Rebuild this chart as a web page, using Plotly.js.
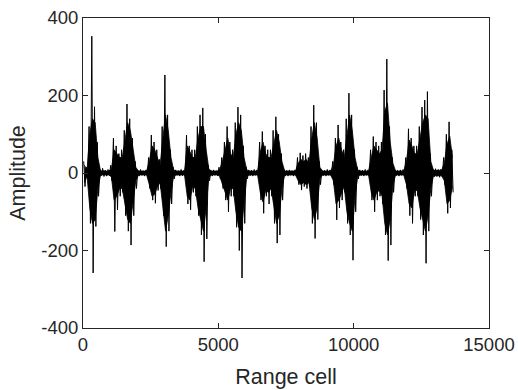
<!DOCTYPE html>
<html>
<head>
<meta charset="utf-8">
<script src="https://cdn.plot.ly/plotly-3.0.1.min.js"></script>
<style>html,body{margin:0;padding:0;background:#fff;}#chart{width:518px;height:390px;}</style>
</head>
<body>
<div id="chart"></div>
<script>
// Range-cell bins (start of each 100-cell bin)
var binStart = [0,100,200,300,400,500,600,700,800,900,1000,1100,1200,1300,1400,1500,1600,1700,1800,1900,
2000,2100,2200,2300,2400,2500,2600,2700,2800,2900,3000,3100,3200,3300,3400,3500,3600,3700,3800,3900,
4000,4100,4200,4300,4400,4500,4600,4700,4800,4900,5000,5100,5200,5300,5400,5500,5600,5700,5800,5900,
6000,6100,6200,6300,6400,6500,6600,6700,6800,6900,7000,7100,7200,7300,7400,7500,7600,7700,7800,7900,
8000,8100,8200,8300,8400,8500,8600,8700,8800,8900,9000,9100,9200,9300,9400,9500,9600,9700,9800,9900,
10000,10100,10200,10300,10400,10500,10600,10700,10800,10900,11000,11100,11200,11300,11400,11500,11600,11700,11800,11900,
12000,12100,12200,12300,12400,12500,12600,12700,12800,12900,13000,13100,13200,13300,13400,13500,13600];
// Peak (maximum) amplitude within each bin
var binMax = [30,15,120,353,171,80,8,12,7,9,20,90,70,50,60,110,178,140,90,30,
7,9,6,8,40,98,80,60,35,120,253,150,60,15,8,6,9,7,98,70,
60,60,120,150,168,100,20,7,8,6,15,40,80,120,80,60,130,170,150,70,
15,8,7,9,8,80,107,70,60,60,110,145,100,50,9,7,8,6,8,40,
52,45,50,40,120,175,130,30,8,7,9,8,30,90,124,80,60,140,206,150,
60,15,8,7,9,8,60,94,80,70,80,214,294,120,40,8,7,8,9,40,
114,90,70,70,120,170,188,210,50,10,11,9,10,40,100,132,60];
// Peak (minimum) amplitude within each bin
var binMin = [-35,-15,-130,-258,-138,-60,-7,-9,-8,-6,-20,-151,-95,-60,-50,-110,-150,-186,-110,-40,
-8,-6,-8,-7,-40,-70,-78,-45,-40,-110,-190,-150,-80,-15,-6,-8,-7,-8,-80,-95,
-50,-60,-110,-160,-229,-170,-20,-8,-6,-7,-15,-40,-70,-100,-60,-60,-140,-200,-271,-130,
-15,-7,-8,-6,-8,-70,-104,-60,-80,-60,-130,-181,-160,-70,-8,-8,-6,-8,-7,-30,
-44,-35,-40,-35,-130,-169,-120,-30,-7,-8,-6,-8,-30,-121,-90,-70,-50,-130,-160,-225,
-100,-15,-7,-8,-6,-8,-70,-100,-70,-60,-80,-160,-226,-186,-50,-7,-8,-6,-8,-40,
-110,-130,-60,-60,-120,-160,-233,-150,-60,-10,-9,-11,-10,-30,-104,-90,-50];
// Dense (solid) upper level of the signal within each bin
var coreMax = [20,8,100,140,130,40,5,6,5,5,10,60,50,40,40,80,130,110,60,15,
5,5,5,5,30,70,60,40,20,90,150,110,40,8,5,5,5,5,70,55,
40,40,90,120,120,60,10,5,5,5,8,30,60,90,50,40,100,130,110,40,
8,5,5,5,5,55,80,50,40,40,80,110,80,30,5,5,5,5,5,25,
35,30,35,25,90,130,90,15,5,5,5,5,20,70,90,60,40,100,150,110,
40,8,5,5,5,5,40,70,60,50,60,160,180,80,25,5,5,5,5,30,
85,70,50,50,90,130,150,140,30,7,7,7,7,25,75,95,40];
// Dense (solid) lower level of the signal within each bin
var coreMin = [-25,-8,-90,-130,-120,-40,-5,-5,-5,-5,-10,-70,-60,-40,-40,-80,-120,-130,-80,-20,
-5,-5,-5,-5,-30,-60,-55,-35,-25,-90,-150,-110,-50,-8,-5,-5,-5,-5,-60,-70,
-35,-40,-90,-120,-150,-90,-10,-5,-5,-5,-8,-30,-50,-70,-40,-40,-100,-140,-150,-70,
-8,-5,-5,-5,-5,-50,-75,-45,-50,-40,-90,-130,-110,-40,-5,-5,-5,-5,-5,-20,
-30,-25,-30,-25,-90,-120,-90,-15,-5,-5,-5,-5,-20,-80,-70,-50,-35,-100,-130,-150,
-60,-8,-5,-5,-5,-5,-50,-70,-50,-45,-60,-130,-160,-120,-30,-5,-5,-5,-5,-30,
-80,-90,-45,-45,-90,-120,-150,-110,-40,-7,-7,-7,-7,-20,-80,-70,-35];

var xs = [], ys = [], xc = [];
for (var i = 0; i < binStart.length; i++) {
  xs.push(binStart[i] + 25); ys.push(binMax[i]);
  xs.push(binStart[i] + 75); ys.push(binMin[i]);
  xc.push(binStart[i] + 50);
}

var axisColor = '#262626';
var fontFam = 'Liberation Sans, Arial, Helvetica, sans-serif';

var coreUpper = {
  x: xc, y: coreMax, type: 'scatter', mode: 'lines',
  line: {color: '#000000', width: 0.8},
  hoverinfo: 'skip', showlegend: false
};
var coreLower = {
  x: xc, y: coreMin, type: 'scatter', mode: 'lines',
  line: {color: '#000000', width: 0.8},
  fill: 'tonexty', fillcolor: '#000000',
  hoverinfo: 'skip', showlegend: false
};
var signal = {
  x: xs, y: ys, type: 'scatter', mode: 'lines',
  line: {color: '#000000', width: 1},
  hoverinfo: 'skip', showlegend: false
};

var layout = {
  width: 518, height: 390,
  margin: {l: 83, r: 29, t: 18, b: 62},
  paper_bgcolor: '#ffffff', plot_bgcolor: '#ffffff',
  font: {family: fontFam, color: axisColor, size: 18.5},
  xaxis: {
    range: [0, 15000], tickvals: [0, 5000, 10000, 15000], ticktext: ['0','5000','10000','15000'],
    showgrid: false, zeroline: false, showline: true, mirror: 'allticks',
    linecolor: axisColor, linewidth: 1, ticks: 'inside', ticklen: 5, tickcolor: axisColor,
    tickfont: {family: fontFam, size: 18.5, color: axisColor},
    title: {text: 'Range cell', font: {family: fontFam, size: 21.5, color: axisColor}, standoff: 14}
  },
  yaxis: {
    range: [-400, 400], tickvals: [-400, -200, 0, 200, 400], ticktext: ['-400','-200','0','200','400'],
    showgrid: false, zeroline: false, showline: true, mirror: 'allticks',
    linecolor: axisColor, linewidth: 1, ticks: 'inside', ticklen: 5, tickcolor: axisColor,
    tickfont: {family: fontFam, size: 18.5, color: axisColor},
    title: {text: 'Amplitude', font: {family: fontFam, size: 21.5, color: axisColor}, standoff: 9}
  }
};

Plotly.newPlot('chart', [coreUpper, coreLower, signal], layout, {staticPlot: true, displayModeBar: false});
</script>
</body>
</html>
